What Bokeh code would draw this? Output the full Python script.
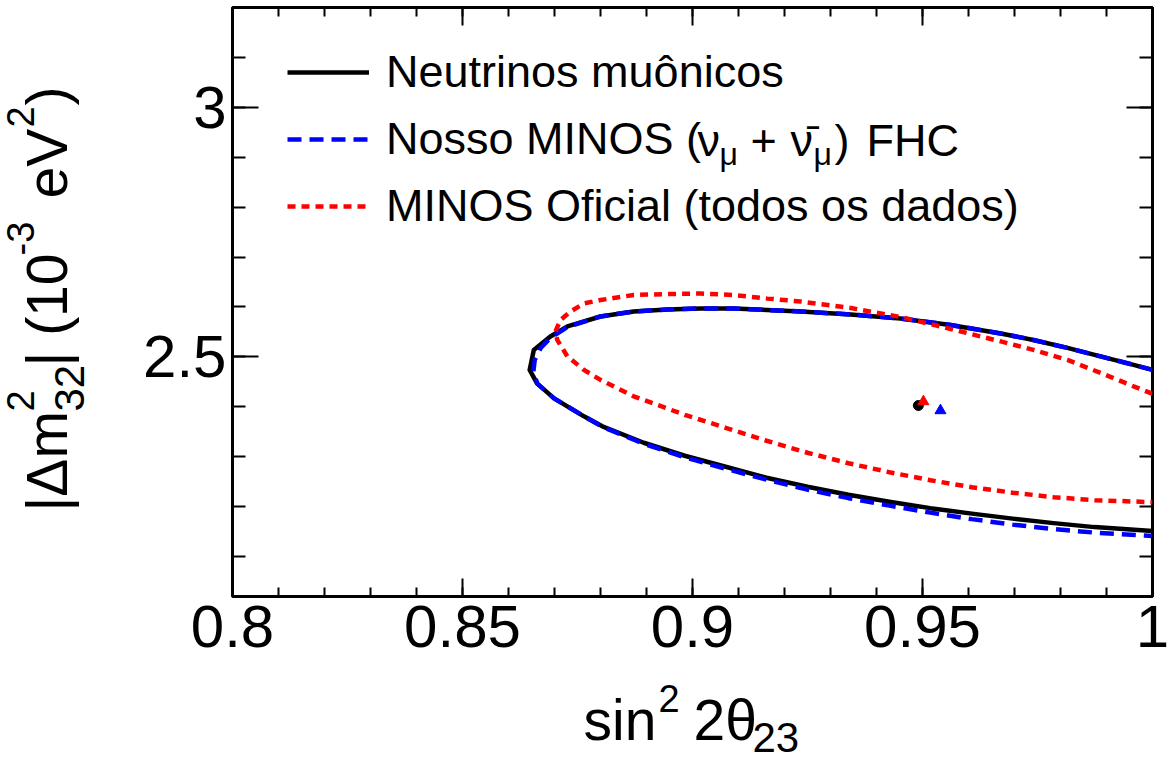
from bokeh.plotting import figure
from bokeh.layouts import column, row
from bokeh.models import (FixedTicker, LinearAxis, Label, Legend, LegendItem,
                          NumeralTickFormatter)
from bokeh.embed import file_html
from bokeh.resources import INLINE

# 90% CL contours in (sin^2 2theta23, |dm^2_32|) plane
black_x = [1.0, 0.9959, 0.9887, 0.9815, 0.9741, 0.9670, 0.9561, 0.9452, 0.9344, 0.9235,
           0.9162, 0.9089, 0.9017, 0.8945, 0.8872, 0.8800, 0.8728, 0.8691, 0.8655, 0.8646,
           0.8662, 0.8699, 0.8764, 0.8804, 0.8894, 0.8983, 0.9072, 0.9161, 0.9250, 0.9339,
           0.9428, 0.9517, 0.9607, 0.9696, 0.9785, 0.9874, 1.0]
black_y = [2.474, 2.484, 2.501, 2.518, 2.534, 2.547, 2.564, 2.577, 2.585, 2.591,
           2.594, 2.597, 2.597, 2.595, 2.591, 2.581, 2.561, 2.541, 2.514, 2.474,
           2.447, 2.417, 2.381, 2.361, 2.328, 2.302, 2.280, 2.258, 2.240, 2.224,
           2.210, 2.197, 2.186, 2.176, 2.167, 2.159, 2.151]

blue_x = [1.0, 0.9959, 0.9887, 0.9815, 0.9741, 0.9670, 0.9561, 0.9452, 0.9344, 0.9235,
          0.9162, 0.9089, 0.9017, 0.8945, 0.8872, 0.8800, 0.8728, 0.8691, 0.8670, 0.8657,
          0.8654, 0.8663, 0.8699, 0.8764, 0.8804, 0.8894, 0.8983, 0.9072, 0.9161, 0.9250,
          0.9339, 0.9428, 0.9517, 0.9607, 0.9696, 0.9785, 0.9874, 1.0]
blue_y = [2.474, 2.484, 2.501, 2.518, 2.534, 2.547, 2.564, 2.577, 2.585, 2.591,
          2.594, 2.597, 2.597, 2.595, 2.591, 2.581, 2.560, 2.538, 2.518, 2.494,
          2.470, 2.446, 2.417, 2.381, 2.360, 2.326, 2.299, 2.276, 2.254, 2.234,
          2.217, 2.202, 2.188, 2.175, 2.164, 2.155, 2.148, 2.141]

red_x = [1.0, 0.9959, 0.9887, 0.9815, 0.9741, 0.9670, 0.9561, 0.9452, 0.9344, 0.9235,
         0.9162, 0.9090, 0.9017, 0.8945, 0.8872, 0.8800, 0.8764, 0.8735, 0.8713, 0.8702,
         0.8706, 0.8728, 0.8764, 0.8800, 0.8872, 0.8983, 0.9072, 0.9161, 0.9250, 0.9339,
         0.9428, 0.9517, 0.9607, 0.9696, 0.9785, 0.9874, 1.0]
red_y = [2.426, 2.441, 2.468, 2.494, 2.514, 2.531, 2.556, 2.580, 2.598, 2.611,
         2.617, 2.624, 2.627, 2.626, 2.624, 2.614, 2.607, 2.591, 2.574, 2.551,
         2.534, 2.501, 2.474, 2.454, 2.421, 2.384, 2.358, 2.332, 2.308, 2.287,
         2.269, 2.253, 2.239, 2.228, 2.219, 2.213, 2.209]

# best-fit points
best_black = (0.9491, 2.4026)
best_red = (0.9502, 2.4106)
best_blue = (0.9539, 2.3926)

x_major = [0.8, 0.85, 0.9, 0.95, 1.0]
x_minor = [round(0.8 + 0.01 * i, 2) for i in range(21)]
y_major = [2.5, 3.0]
y_minor = [round(2.1 + 0.1 * i, 1) for i in range(11)]

FONT = "Liberation Sans"
TOP_H = 675  # height of the row holding the plot; the x title sits below it


def blank_figure(w, h):
    f = figure(width=w, height=h, x_range=(0, 1), y_range=(0, 1),
               output_backend="svg", toolbar_location=None,
               min_border=0, x_axis_location=None, y_axis_location=None)
    f.title.visible = False
    f.grid.visible = False
    f.outline_line_color = None
    f.background_fill_color = "white"
    f.border_fill_color = "white"
    return f


# main plotting area: frame spans 232..1152 x 7..596 on the page
p = figure(width=1060, height=TOP_H, x_range=(0.8, 1.0), y_range=(2.02, 3.2),
           output_backend="svg", toolbar_location=None,
           min_border_left=122, min_border_right=18, min_border_top=7,
           min_border_bottom=TOP_H - 596,
           x_axis_location=None, y_axis_location=None)
p.title.visible = False
p.grid.visible = False
p.outline_line_color = "black"
p.outline_line_width = 3
p.background_fill_color = "white"
p.border_fill_color = "white"


def make_axis(ticks, minors, fmt, major_len, minor_len, show_labels):
    ax = LinearAxis(ticker=FixedTicker(ticks=ticks, minor_ticks=minors),
                    formatter=NumeralTickFormatter(format=fmt))
    ax.axis_line_color = None
    ax.major_tick_in = major_len
    ax.major_tick_out = 0
    ax.minor_tick_in = minor_len
    ax.minor_tick_out = 0
    ax.major_tick_line_width = 2
    ax.minor_tick_line_width = 2
    ax.major_tick_line_color = "black"
    ax.minor_tick_line_color = "black"
    if show_labels:
        ax.major_label_text_font = FONT
        ax.major_label_text_font_size = "60px"
        ax.major_label_text_color = "black"
    else:
        ax.major_label_text_font_size = "1px"
        ax.major_label_text_color = None
        ax.major_label_standoff = 0
    return ax


xb = make_axis(x_major, x_minor, "0.[00]", 18, 9, True)
xb.major_label_standoff = 9
xt = make_axis(x_major, x_minor, "0.[00]", 18, 9, False)
yl = make_axis(y_major, y_minor, "0.[0]", 26, 13, True)
yl.major_label_standoff = 6
yr = make_axis(y_major, y_minor, "0.[0]", 26, 13, False)
p.add_layout(xb, "below")
p.add_layout(xt, "above")
p.add_layout(yl, "left")
p.add_layout(yr, "right")

r_black = p.line(black_x, black_y, line_color="black", line_width=4.5, line_join="round")
r_blue = p.line(blue_x, blue_y, line_color="#0000ff", line_width=4.5, line_dash="14 8")
r_red = p.line(red_x, red_y, line_color="#ff0000", line_width=4.5, line_dash="8 6")

p.scatter([best_black[0]], [best_black[1]], marker="circle", size=10, color="black")
p.scatter([best_red[0]], [best_red[1]], marker="triangle", size=11, color="#ff0000")
p.scatter([best_blue[0]], [best_blue[1]], marker="triangle", size=11, color="#0000ff")

legend = Legend(items=[
    LegendItem(label="Neutrinos muônicos", renderers=[r_black]),
    LegendItem(label="Nosso MINOS (", renderers=[r_blue]),
    LegendItem(label="MINOS Oficial (todos os dados)", renderers=[r_red]),
], location=(55, 364), glyph_width=82, glyph_height=50, label_height=50,
    spacing=15, padding=0, margin=0, label_standoff=17,
    border_line_color=None, background_fill_alpha=0,
    label_text_font=FONT, label_text_font_size="45px", label_text_color="black")
p.add_layout(legend)


def lab(fig, x, y, text, size, angle=0):
    fig.add_layout(Label(x=x, y=y, x_units="screen", y_units="screen",
                         text=text, text_font=FONT, text_font_size=f"{size}px",
                         text_color="black", text_align="left",
                         text_baseline="alphabetic", angle=angle, angle_units="deg"))


# Label anchors sit about a third of the font size above the drawn baseline,
# so each helper takes the wanted baseline and compensates for that.

# rest of the second legend entry: (nu_mu + nubar_mu) FHC  (frame origin 232, 596)
def leg(px, base, text, size):
    lab(p, px - 232, 596 - (base - size / 3), text, size)


leg(697, 155, "ν", 45)
leg(719, 164, "μ", 32)
leg(750, 155, "+", 45)
leg(790, 155, "ν\u0304", 45)
leg(813, 164, "μ", 32)
leg(834, 155, ")", 45)
leg(866, 155, "FHC", 45)

# y title: |dm^2_32| (10^-3 eV^2), rotated; its frame lines up with the main one
yfig = blank_figure(110, TOP_H)


def ylab(base_x, start_y, text, size):
    lab(yfig, base_x - size / 3, 596 - start_y, text, size, 90)


ylab(65, 511, "|Δm", 57)
ylab(33, 411, "2", 38)
ylab(83, 411, "32", 42)
ylab(65, 366, "| (10", 57)
ylab(33, 255, "-3", 38)
ylab(65, 198, "eV", 57)
ylab(33, 127, "2", 38)
ylab(65, 105, ")", 57)

# x title: sin^2 2theta_23 (page y -> 760 - y)
xfig = blank_figure(1170, 760 - TOP_H)


def xlab(px, base, text, size):
    lab(xfig, px, 760 - (base - size / 3), text, size)


xlab(583, 738, "sin", 57)
xlab(658, 711, "2", 38)
xlab(693, 738, "2θ", 57)
xlab(752, 751, "23", 42)

page = column(row(yfig, p, spacing=0), xfig, spacing=0)

open("out.html", "w").write(file_html(page, INLINE))
